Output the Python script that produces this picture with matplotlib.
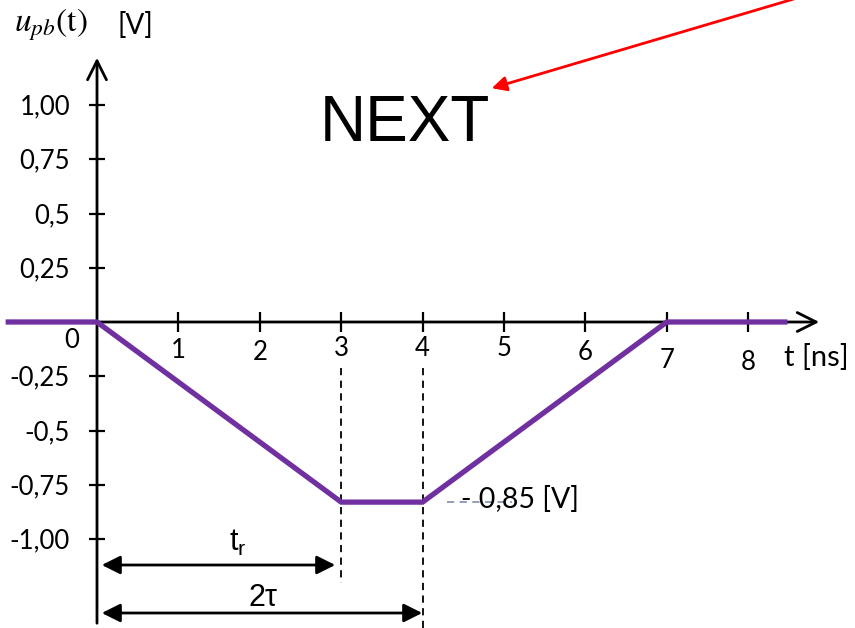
import numpy as np
import matplotlib.pyplot as plt

plt.rcParams['mathtext.fontset'] = 'stix'

# signal u_pb(t): time in ns, voltage in V
t_sig = [-1.09, 0, 3, 4, 7, 8.45]
u_sig = [0, 0, -0.83, -0.83, 0, 0]

x_ticks = [1, 2, 3, 4, 5, 6, 7, 8]
x_labels = ['1', '2', '3', '4', '5', '6', '7', '8']
y_ticks = [1.0, 0.75, 0.5, 0.25, -0.25, -0.5, -0.75, -1.0]
y_labels = ['1,00', '0,75', '0,5', '0,25', '-0,25', '-0,5', '-0,75', '-1,00']

t_rise = 3
two_tau = 4

# pixel -> data helpers (figure is drawn on one full-size axes)
sx, ox = 81.4, 97
sy, oy = 217, 322
def X(px):
    return (px - ox) / sx
def Y(py):
    return (oy - py) / sy

fig = plt.figure(figsize=(8.55, 6.28), dpi=100)
ax = fig.add_axes([0, 0, 1, 1])
ax.set_xlim(X(0), X(855))
ax.set_ylim(Y(628), Y(0))
ax.axis('off')

tick_font = 'Lato'

# axes with arrow heads
ax.annotate('', xy=(X(822), 0), xytext=(X(5), 0),
            arrowprops=dict(arrowstyle='->', lw=2, color='black', mutation_scale=34))
ax.annotate('', xy=(0, Y(55)), xytext=(0, Y(626)),
            arrowprops=dict(arrowstyle='->', lw=2, color='black', mutation_scale=34))

# tick marks
ax.plot(x_ticks, np.zeros(len(x_ticks)), ls='none', marker='|', ms=15, mew=1.6, color='black')
ax.plot(np.zeros(len(y_ticks)), y_ticks, ls='none', marker='_', ms=12, mew=1.6, color='black')

# tick labels (slightly uneven, as in the hand drawing)
x_lab_py = [350, 352, 349, 349, 348, 352, 360, 362]
for xt, lab, py in zip(x_ticks, x_labels, x_lab_py):
    ax.text(xt, Y(py), lab, ha='center', va='center', fontsize=18.5, family=tick_font)
for yt, lab in zip(y_ticks, y_labels):
    ax.text(X(70), yt - 2 / sy, lab, ha='right', va='center', fontsize=18.5, family=tick_font)
ax.text(X(72), Y(341), '0', ha='center', va='center', fontsize=18.5, family=tick_font)

ax.text(X(784), Y(357), 't [ns]', ha='left', va='center', fontsize=21, family=tick_font)
ax.text(X(14), Y(25), r'$u_{pb}\mathrm{(t)}$', ha='left', va='center', fontsize=24)
ax.text(X(117), Y(25), '[V]', ha='left', va='center', fontsize=20, family=tick_font)

# signal
ax.plot(t_sig, u_sig, color='#7030A0', lw=3.8, solid_joinstyle='miter', zorder=3)

# dashed guides at t_r and 2tau
ax.plot([t_rise, t_rise], [Y(368), Y(583)], ls=(0, (4, 3)), color='black', lw=1.3)
ax.plot([two_tau, two_tau], [Y(368), Y(630)], ls=(0, (4, 3)), color='black', lw=1.3)

# level label
ax.plot([X(447), X(512)], [Y(502), Y(502)], ls=(0, (4, 3)), color='#8a96b4', lw=1.3)
ax.text(X(461), Y(500), '- 0,85 [V]', ha='left', va='center', fontsize=20.5, family=tick_font)

# dimension arrows
ax.annotate('', xy=(X(338), Y(565)), xytext=(X(99), Y(565)),
            arrowprops=dict(arrowstyle='<|-|>', lw=2, color='black', mutation_scale=28))
ax.annotate('', xy=(X(425), Y(613)), xytext=(X(99), Y(613)),
            arrowprops=dict(arrowstyle='<|-|>', lw=2, color='black', mutation_scale=28))
ax.text(X(238), Y(543), r'$\mathregular{t_r}$', ha='center', va='center', fontsize=22,
        family='Liberation Sans')
ax.text(X(263), Y(598), r'2$\mathregular{\tau}$', ha='center', va='center', fontsize=22,
        family='Liberation Sans')

# NEXT marker with red arrow
ax.text(X(405), Y(124), 'NEXT', ha='center', va='center', fontsize=46, family='Liberation Sans')
ax.annotate('', xy=(X(489), Y(89)), xytext=(X(797), Y(-2)),
            arrowprops=dict(arrowstyle='-|>', lw=2, color='red', mutation_scale=22))

fig.savefig('out.png', dpi=100)
